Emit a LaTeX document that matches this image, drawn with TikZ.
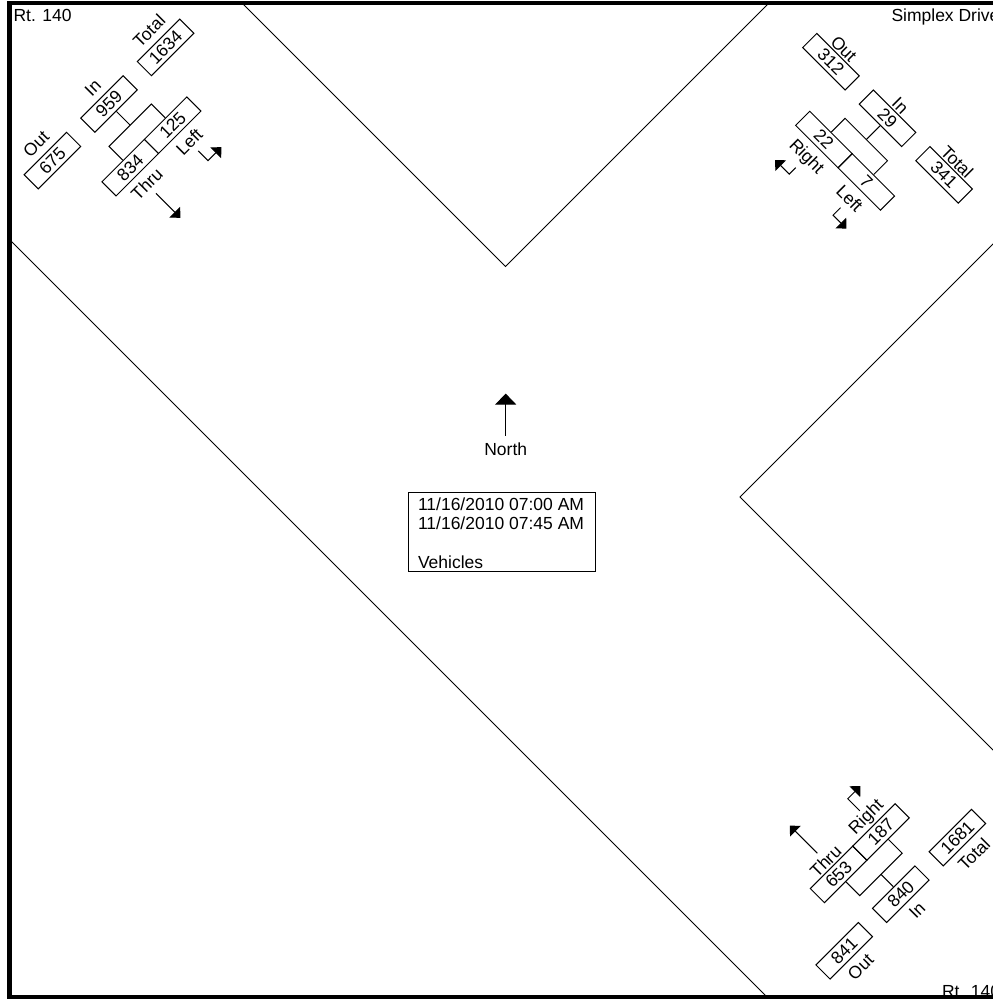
\documentclass[tikz,border=0pt]{standalone}
\usepackage{fontspec}
\setmainfont{Liberation Sans}
\usetikzlibrary{arrows.meta}

\begin{document}
\begin{tikzpicture}[x=1pt, y=-1pt, line width=1pt,
    every node/.style={font=\fontsize{17.5}{19.5}\selectfont}]
  \tikzstyle{count} = [rectangle, draw, minimum width=60pt,
      minimum height=20pt, inner sep=0pt]
  \tikzstyle{lbl} = [inner sep=6pt]
  \tikzstyle{tight} = [inner sep=1pt]
  \tikzstyle{move} = [-{Triangle[width=15pt,length=8pt]}]
  \tikzstyle{corner} = [anchor=base west, inner sep=0pt]

  \useasboundingbox (0,0) rectangle (993,999);
  \clip (0,0) rectangle (993,999);

  % road edges, the right ones run on past the cut edge
  \draw (241.8,2.8) -- (505.5,266.5) -- (769.2,2.8);
  \draw (9.5,239.5) -- (769,999);
  \draw (1010,227) -- (740,497) -- (1010,767);

  % street names in the corners
  \node (nwName) [corner] at (13,21.5)   {Rt. 140};
  \node (neName) [corner] at (891,21)    {Simplex Drive};
  \node (seName) [corner] at (941.5,997) {Rt. 140};

  % Rt. 140 from the north. Local x runs along the row of boxes,
  % local y points away from the corner (y=60 holds the movements).
  \begin{scope}[shift={(109,104)}, rotate=45, transform shape]
    \node (nwOut)   [count] at (-80,0)  {675};
    \node (nwIn)    [count] at (0,0)    {959};
    \node (nwTotal) [count] at (80,0)   {1634};
    \node (nwThru)  [count] at (-30,60) {834};
    \node (nwLeft)  [count] at (30,60)  {125};
    \node (nwOutL)   [lbl, anchor=south] at (nwOut.north)   {Out};
    \node (nwInL)    [lbl, anchor=south] at (nwIn.north)    {In};
    \node (nwTotalL) [lbl, anchor=south] at (nwTotal.north) {Total};
    \node (nwThruL)  [lbl, anchor=north] at (nwThru.south)  {Thru};
    \node (nwLeftL)  [lbl, anchor=north] at (nwLeft.south)  {Left};
    \coordinate (nwJoin) at (0,30);
    \draw (nwThru.north) -- (-30,30) -- (30,30) -- (nwLeft.north);
    \draw (nwJoin) -- (nwIn.south);
    \draw[move] (nwThruL.south) -- (-30,131);
    \draw[move] (nwLeftL.south) -- (30,110) -- (49,110);
  \end{scope}

  % Simplex Drive from the east
  \begin{scope}[shift={(887.5,118.3)}, rotate=-45, transform shape]
    \node (neOut)   [count] at (-80,0)  {312};
    \node (neIn)    [count] at (0,0)    {29};
    \node (neTotal) [count] at (80,0)   {341};
    \node (neRight) [count] at (-30,60) {22};
    \node (neLeft)  [count] at (30,60)  {7};
    \node (neOutL)   [tight, anchor=south] at (neOut.north)   {Out};
    \node (neInL)    [tight, anchor=south] at (neIn.north)    {In};
    \node (neTotalL) [tight, anchor=south] at (neTotal.north) {Total};
    \node (neRightL) [lbl, anchor=north] at (neRight.south) {Right};
    \node (neLeftL)  [lbl, anchor=north] at (neLeft.south)  {Left};
    \coordinate (neJoin) at (0,30);
    \draw (neRight.north) -- (-30,30) -- (30,30) -- (neLeft.north);
    \draw (neJoin) -- (neIn.south);
    \draw[move] (neRightL.south) -- (-30,109) -- (-50,109);
    \draw[move] (neLeftL.south) -- (30,107) -- (49,107);
  \end{scope}

  % Rt. 140 from the south
  \begin{scope}[shift={(900.8,894.2)}, rotate=45, transform shape]
    \node (seOut)   [count] at (-80,0)   {841};
    \node (seIn)    [count] at (0,0)     {840};
    \node (seTotal) [count] at (80,0)    {1681};
    \node (seThru)  [count] at (-30,-58) {653};
    \node (seRight) [count] at (30,-58)  {187};
    \node (seOutL)   [lbl, anchor=north] at (seOut.south)   {Out};
    \node (seInL)    [lbl, anchor=north] at (seIn.south)    {In};
    \node (seTotalL) [lbl, anchor=north] at (seTotal.south) {Total};
    \node (seThruL)  [tight, anchor=south] at (seThru.north)  {Thru};
    \node (seRightL) [tight, anchor=south] at (seRight.north) {Right};
    \coordinate (seJoin) at (0,-28);
    \coordinate (seThruA) at (-30,-88);
    \coordinate (seRightA) at (30,-88);
    \draw (seThru.south) -- (-30,-28) -- (30,-28) -- (seRight.south);
    \draw (seJoin) -- (seIn.north);
    \draw[move] (seThruA) -- (-30,-127);
    \draw[move] (seRightA) -- (30,-105) -- (48,-105);
  \end{scope}

  % north arrow and the count period
  \node (northL) [inner sep=6.5pt] at (505.7,449) {North};
  \draw[-{Triangle[width=21pt,length=11pt]}] (northL.north) -- ++(0,-42);

  \node (info) [draw, anchor=north west, minimum width=187.3pt,
      minimum height=79pt, inner sep=0pt] at (407.7,491.7) {};
  \node (infoFrom) [corner] at (417.5,510)   {11/16/2010 07:00 AM};
  \node (infoTo)   [corner] at (417.5,529.5) {11/16/2010 07:45 AM};
  \node (infoUnit) [corner] at (417.5,568.5) {Vehicles};

  % outer frame
  \draw[line width=4.5pt] (9.5,2.8) rectangle (1100,997.2);
\end{tikzpicture}
\end{document}
